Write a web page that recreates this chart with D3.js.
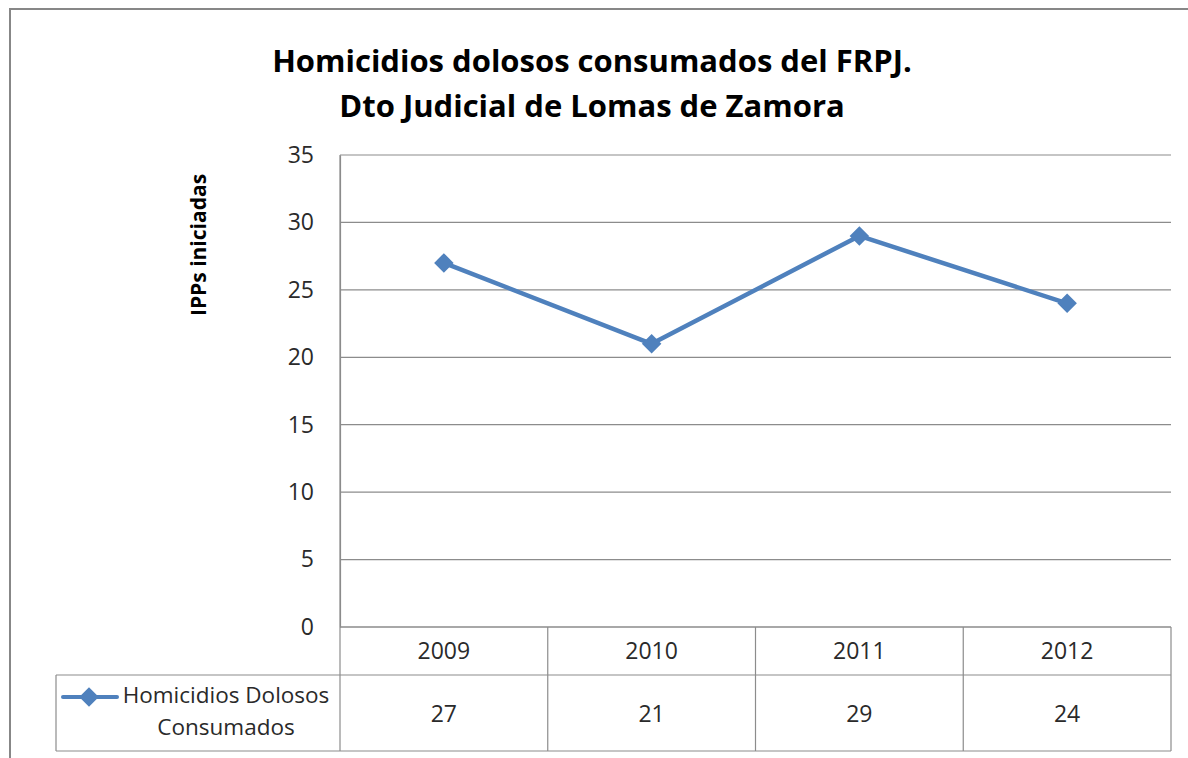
<!DOCTYPE html>
<html>
<head>
<meta charset="utf-8">
<script src="https://cdn.jsdelivr.net/npm/d3@7"></script>
<style>
  body { margin: 0; background: #fff; }
  text { font-family: "Open Sans", "Liberation Sans", sans-serif; fill: #2a2a2a; }
</style>
</head>
<body>
<div id="chart"></div>
<script>
// datos del gráfico
const years = ["2009", "2010", "2011", "2012"];
const values = [27, 21, 29, 24];
const yTicks = [0, 5, 10, 15, 20, 25, 30, 35];
const seriesName = ["Homicidios Dolosos", "Consumados"];
const titleLines = ["Homicidios dolosos consumados del FRPJ.", "Dto Judicial de Lomas de Zamora"];
const yLabel = "IPPs iniciadas";

const width = 1188, height = 758;
const plot = {left: 340, right: 1171, top: 155, bottom: 627};
const color = "#4F81BD";
const gridColor = "#8c8c8c";

const svg = d3.select("#chart").append("svg")
  .attr("width", width)
  .attr("height", height);

// marco exterior
svg.append("rect")
  .attr("x", 10).attr("y", 9)
  .attr("width", width + 20).attr("height", height + 20)
  .attr("fill", "none")
  .attr("stroke", "#878787")
  .attr("stroke-width", 2);

// escalas
const x = d3.scaleBand()
  .domain(years)
  .range([plot.left, plot.right]);

const y = d3.scaleLinear()
  .domain([0, 35])
  .range([plot.bottom, plot.top]);

// título
svg.append("text")
  .attr("text-anchor", "middle")
  .style("font-weight", "bold")
  .style("font-size", "31px")
  .selectAll("tspan")
  .data(titleLines)
  .enter()
  .append("tspan")
  .attr("x", 592)
  .attr("y", (d, i) => 72 + i * 45)
  .style("fill", "#000")
  .text(d => d);

// líneas de grilla
svg.append("g")
  .selectAll("line")
  .data(yTicks)
  .enter()
  .append("line")
  .attr("x1", plot.left)
  .attr("x2", plot.right)
  .attr("y1", d => y(d))
  .attr("y2", d => y(d))
  .attr("stroke", gridColor)
  .attr("stroke-width", 1.2);

// eje y
const yAxis = svg.append("g")
  .attr("transform", `translate(${plot.left}, 0)`)
  .call(d3.axisLeft(y).tickValues(yTicks).tickSize(0).tickPadding(26));
yAxis.select(".domain").attr("stroke", gridColor).attr("stroke-width", 1.2);
yAxis.selectAll("text")
  .style("font-size", "23px")
  .style("font-family", "'Open Sans', 'Liberation Sans', sans-serif")
  .style("fill", "#2a2a2a");

// etiqueta eje y
svg.append("text")
  .attr("transform", `translate(206, 245) rotate(-90)`)
  .attr("text-anchor", "middle")
  .style("font-weight", "bold")
  .style("font-size", "21px")
  .style("fill", "#000")
  .text(yLabel);

// tabla de datos
const rowTop = plot.bottom, rowMid = 675, rowBot = 751, legendLeft = 56;
const table = svg.append("g")
  .attr("stroke", gridColor)
  .attr("stroke-width", 1.2);

table.append("line")
  .attr("x1", plot.left).attr("x2", plot.right)
  .attr("y1", rowTop).attr("y2", rowTop);
table.append("line")
  .attr("x1", legendLeft).attr("x2", plot.right)
  .attr("y1", rowMid).attr("y2", rowMid);
table.append("line")
  .attr("x1", legendLeft).attr("x2", plot.right)
  .attr("y1", rowBot).attr("y2", rowBot);
table.append("line")
  .attr("x1", legendLeft).attr("x2", legendLeft)
  .attr("y1", rowMid).attr("y2", rowBot);
table.selectAll(".vline")
  .data(years)
  .enter()
  .append("line")
  .attr("class", "vline")
  .attr("x1", d => x(d) + x.bandwidth())
  .attr("x2", d => x(d) + x.bandwidth())
  .attr("y1", rowTop).attr("y2", rowBot);
table.append("line")
  .attr("x1", plot.left).attr("x2", plot.left)
  .attr("y1", plot.top).attr("y2", rowBot);

// años
svg.selectAll(".year")
  .data(years)
  .enter()
  .append("text")
  .attr("class", "year")
  .attr("x", d => x(d) + x.bandwidth() / 2)
  .attr("y", 659)
  .attr("text-anchor", "middle")
  .style("font-size", "23px")
  .text(d => d);

// valores
svg.selectAll(".val")
  .data(values)
  .enter()
  .append("text")
  .attr("class", "val")
  .attr("x", (d, i) => x(years[i]) + x.bandwidth() / 2)
  .attr("y", 722)
  .attr("text-anchor", "middle")
  .style("font-size", "23px")
  .text(d => d);

// leyenda
const diamond = d3.symbol().type(d3.symbolSquare).size(190);
svg.append("line")
  .attr("x1", 63).attr("x2", 117)
  .attr("y1", 697).attr("y2", 697)
  .attr("stroke", color)
  .attr("stroke-width", 4)
  .attr("stroke-linecap", "round");
svg.append("path")
  .attr("d", diamond)
  .attr("transform", "translate(89, 697) rotate(45)")
  .attr("fill", color);
svg.append("text")
  .attr("text-anchor", "middle")
  .style("font-size", "22.5px")
  .selectAll("tspan")
  .data(seriesName)
  .enter()
  .append("tspan")
  .attr("x", (d, i) => i === 0 ? 226 : 226)
  .attr("y", (d, i) => 703 + i * 32)
  .text(d => d);

// línea de la serie
const line = d3.line()
  .x((d, i) => x(years[i]) + x.bandwidth() / 2)
  .y(d => y(d));

svg.append("path")
  .datum(values)
  .attr("d", line)
  .attr("fill", "none")
  .attr("stroke", color)
  .attr("stroke-width", 4.5)
  .attr("stroke-linejoin", "round");

svg.selectAll(".pt")
  .data(values)
  .enter()
  .append("path")
  .attr("class", "pt")
  .attr("d", diamond)
  .attr("transform", (d, i) => `translate(${x(years[i]) + x.bandwidth() / 2}, ${y(d)}) rotate(45)`)
  .attr("fill", color);
</script>
</body>
</html>
